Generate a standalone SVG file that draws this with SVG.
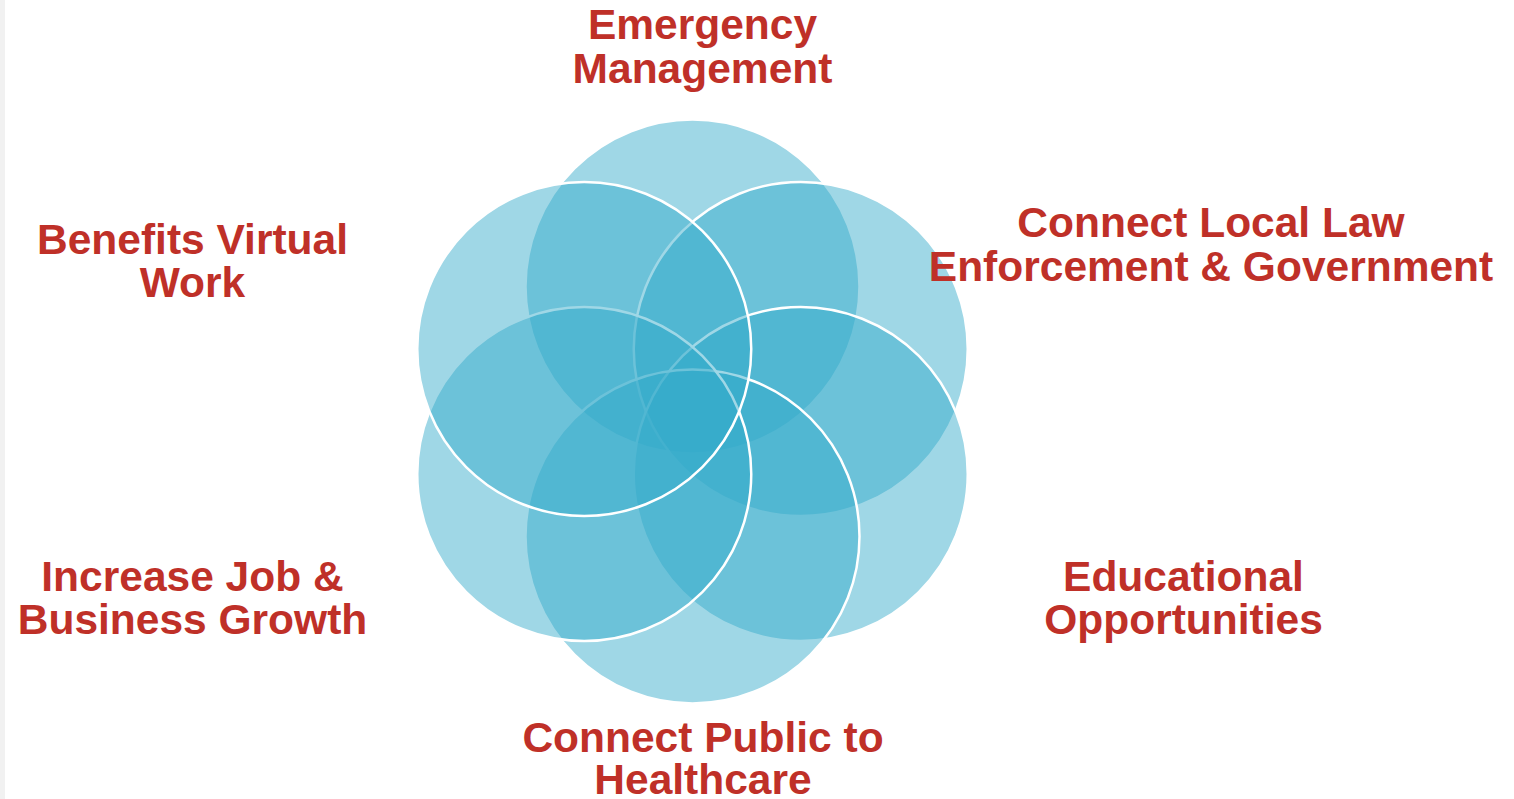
<svg xmlns="http://www.w3.org/2000/svg" width="1514" height="799" viewBox="0 0 1514 799">
  <style>
    .petal { fill: #32a9ca; fill-opacity: 0.47; stroke: #ffffff; stroke-width: 2.5; }
    .lbl { font-family: "Liberation Sans", Arial, sans-serif; font-weight: bold; font-size: 42.5px; fill: #bf3028; text-anchor: middle; }
  </style>
  <rect x="0" y="0" width="1514" height="799" fill="#ffffff"/>
  <rect x="0" y="0" width="5" height="799" fill="#f1f1f1"/>

  <g id="circles">
    <g id="node-emergency"><circle class="petal" cx="692.5" cy="286.5" r="167"/></g>
    <g id="node-law"><circle class="petal" cx="800.75" cy="349" r="167"/></g>
    <g id="node-education"><circle class="petal" cx="800.75" cy="474" r="167"/></g>
    <g id="node-healthcare"><circle class="petal" cx="692.5" cy="536.5" r="167"/></g>
    <g id="node-jobs"><circle class="petal" cx="584.25" cy="474" r="167"/></g>
    <g id="node-virtual"><circle class="petal" cx="584.25" cy="349" r="167"/></g>
  </g>

  <g id="connectors"></g>

  <g id="labels">
    <g id="label-emergency">
      <text class="lbl" x="702.5" y="39">Emergency</text>
      <text class="lbl" x="702.5" y="83">Management</text>
    </g>
    <g id="label-law">
      <text class="lbl" x="1211" y="237">Connect Local Law</text>
      <text class="lbl" x="1211" y="281">Enforcement &amp; Government</text>
    </g>
    <g id="label-virtual">
      <text class="lbl" x="192.5" y="254">Benefits Virtual</text>
      <text class="lbl" x="192.5" y="297">Work</text>
    </g>
    <g id="label-jobs">
      <text class="lbl" x="192.5" y="591">Increase Job &amp;</text>
      <text class="lbl" x="192.5" y="634">Business Growth</text>
    </g>
    <g id="label-education">
      <text class="lbl" x="1183.5" y="591">Educational</text>
      <text class="lbl" x="1183.5" y="634">Opportunities</text>
    </g>
    <g id="label-healthcare">
      <text class="lbl" x="703" y="752">Connect Public to</text>
      <text class="lbl" x="703" y="794">Healthcare</text>
    </g>
  </g>
</svg>
